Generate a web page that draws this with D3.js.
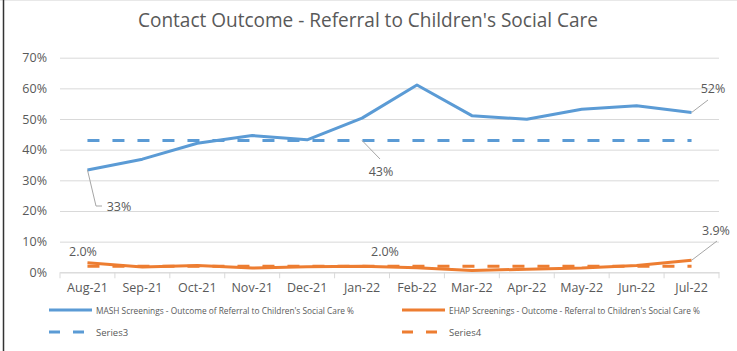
<!DOCTYPE html>
<html><head><meta charset="utf-8">
<script src="https://cdn.jsdelivr.net/npm/d3@7"></script>
<style>body{margin:0;background:#fff}svg{display:block}text{font-family:"Open Sans",sans-serif;fill:#595959}</style>
</head><body><svg id="c" width="737" height="351"></svg>
<script>
const categories = ["Aug-21","Sep-21","Oct-21","Nov-21","Dec-21","Jan-22","Feb-22","Mar-22","Apr-22","May-22","Jun-22","Jul-22"];
const mash = [33.4,36.9,42.1,44.6,43.2,50.3,61.1,51.1,49.9,53.2,54.3,52.1];
const ehap = [3.1,1.7,2.2,1.4,1.8,2.0,1.5,0.6,1.0,1.4,2.2,3.9];
const series3 = [43,43,43,43,43,43,43,43,43,43,43,43];
const series4 = [2,2,2,2,2,2,2,2,2,2,2,2];
const yTicks = [0,10,20,30,40,50,60,70];
const seriesNames = ["MASH Screenings - Outcome of Referral to Children's Social Care %","EHAP Screenings - Outcome - Referral to Children's Social Care %","Series3","Series4"];

const svg = d3.select("#c");
const blue="#5B9BD5", orange="#ED7D31";
// frame
svg.append("line").attr("x1",0).attr("x2",737).attr("y1",0.5).attr("y2",0.5).attr("stroke","#e8e8e8");
svg.append("line").attr("x1",3.5).attr("x2",3.5).attr("y1",0).attr("y2",351).attr("stroke","#333").attr("stroke-width",1.5);

const x = d3.scaleBand().domain(categories).range([60,719]);
const y = d3.scaleLinear().domain([0,70]).range([272.3,57.7]);
const cx = c => x(c)+x.bandwidth()/2;

svg.append("text").attr("x",368).attr("y",27).attr("text-anchor","middle").attr("font-size",20)
  .attr("textLength",460).attr("lengthAdjust","spacingAndGlyphs")
  .text("Contact Outcome - Referral to Children's Social Care");

// grid
const yAxis = d3.axisLeft(y).tickValues(yTicks).tickFormat(d=>d+"%").tickSize(-(719-60)).tickPadding(13);
const gy = svg.append("g").attr("transform","translate(60,0)").call(yAxis);
gy.select(".domain").remove();
gy.selectAll(".tick line").attr("stroke","#D9D9D9").attr("stroke-width",1);
gy.selectAll(".tick text").attr("font-size",12.5).attr("fill","#595959").style("font-family","Open Sans");

// x axis
const xAxis = d3.axisBottom(x).tickSize(0).tickPadding(11);
const gx = svg.append("g").attr("transform","translate(0,272.3)").call(xAxis);
gx.select(".domain").attr("stroke","#D9D9D9");
gx.selectAll(".tick text").attr("font-size",12.5).attr("fill","#595959").style("font-family","Open Sans");
const bounds = categories.map(c=>x(c)).concat([x.range()[1]]);
gx.selectAll(".bt").data(bounds).enter().append("line").attr("x1",d=>d).attr("x2",d=>d).attr("y1",0).attr("y2",6).attr("stroke","#D9D9D9");

const line = d3.line().x((d,i)=>cx(categories[i])).y(d=>y(d));
const dash = "12,13";
svg.append("path").attr("d",line(mash)).attr("fill","none").attr("stroke",blue).attr("stroke-width",3).attr("stroke-linejoin","round");
svg.append("path").attr("d",line(ehap)).attr("fill","none").attr("stroke",orange).attr("stroke-width",3).attr("stroke-linejoin","round");
svg.append("path").attr("d",line(series3)).attr("fill","none").attr("stroke",blue).attr("stroke-width",3).attr("stroke-dasharray",dash);
svg.append("path").attr("d",line(series4)).attr("fill","none").attr("stroke",orange).attr("stroke-width",3).attr("stroke-dasharray",dash);

// data labels
const lab = (txt,xx,yy)=>svg.append("text").attr("x",xx).attr("y",yy).attr("text-anchor","middle").attr("font-size",12.5).text(txt);
const lead = pts=>svg.append("path").attr("d",d3.line()(pts)).attr("fill","none").attr("stroke","#A6A6A6").attr("stroke-width",1);
lead([[cx(categories[0]),y(mash[0])],[96,206],[102,206]]);
lab(Math.round(mash[0])+"%",119,211);
lead([[cx(categories[5]),y(series3[5])],[380,159]]);
lab(series3[5]+"%",381,176);
lead([[cx(categories[11]),y(mash[11])],[708,100]]);
lab(Math.round(mash[11])+"%",713,93);
lead([[cx(categories[11]),y(ehap[11])],[717,241]]);
lab(ehap[11].toFixed(1)+"%",716,235);
lab(series4[0].toFixed(1)+"%",83,256);
lab(series4[5].toFixed(1)+"%",385,256);

// legend
const leg = [
  {x:49,y:310,c:blue,d:null,w:258},
  {x:402,y:310,c:orange,d:null,w:251},
  {x:49,y:332,c:blue,d:"11,13",w:null},
  {x:402,y:332,c:orange,d:"11,13",w:null}
];
leg.forEach((l,i)=>{
  svg.append("line").attr("x1",l.x).attr("x2",l.x+(l.d?35:43)).attr("y1",l.y).attr("y2",l.y).attr("stroke",l.c).attr("stroke-width",3).attr("stroke-dasharray",l.d);
  const t = svg.append("text").attr("x",l.x+47).attr("y",l.y+3.5).attr("font-size",9.5).text(seriesNames[i]);
  if(l.w) t.attr("textLength",l.w).attr("lengthAdjust","spacingAndGlyphs");
});
</script></body></html>
